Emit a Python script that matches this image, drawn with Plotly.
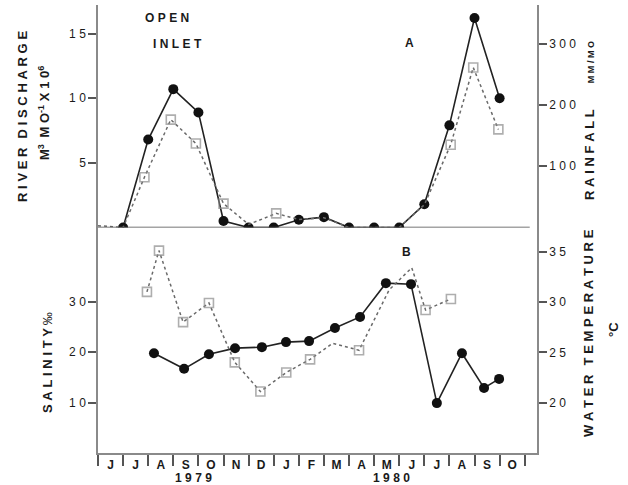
import plotly.graph_objects as go

# ---------------- data ----------------
months = ["J", "J", "A", "S", "O", "N", "D", "J", "F", "M", "A", "M", "J", "J", "A", "S", "O"]
years = ["1979", "1980"]
year_pos = [3.8, 11.7]

# Panel A (month index; tick boundaries at integers, Jun 1979 starts at 0)
discharge_x = [1, 2, 3, 4, 5, 6, 7, 8, 9, 10, 11, 12, 13, 14, 15, 16]
discharge = [0, 6.8, 10.7, 8.9, 0.5, 0, 0, 0.6, 0.8, 0, 0, 0, 1.8, 7.9, 16.2, 10.0]

rain_x = [0, 1, 1.85, 2.9, 3.9, 5.0, 6, 7.1, 8, 9, 10, 11, 12, 13, 14.05, 14.95, 15.95]
rainfall = [3, 0, 82, 176, 137, 39, 5, 23, 13, 16, 0, 0, 0, 37, 135, 261, 160]
rain_shown = [0, 0, 1, 1, 1, 1, 0, 1, 0, 0, 0, 0, 0, 0, 1, 1, 1]

# Panel B
salinity_x = [2.23, 3.43, 4.42, 5.46, 6.53, 7.49, 8.41, 9.44, 10.44, 11.47, 12.47, 13.5, 14.5, 15.38, 15.98]
salinity = [19.8, 16.7, 19.6, 20.8, 21.0, 22.0, 22.2, 24.8, 27.0, 33.7, 33.5, 9.9, 19.8, 12.9, 14.7]

temp_x = [1.95, 2.43, 3.39, 4.42, 5.45, 6.47, 7.5, 8.45, 9.35, 10.4, 11.6, 12.5, 13.05, 14.06]
temperature = [31.0, 35.1, 28.0, 29.9, 24.0, 21.1, 23.0, 24.3, 25.9, 25.2, 31.2, 33.4, 29.2, 30.3]
temp_shown = [1, 1, 1, 1, 1, 1, 1, 1, 0, 1, 0, 0, 1, 1]

# ---------------- layout geometry ----------------
W, H = 628, 485
L, R, T, B = 98, 91, 5, 32
PW, PH = W - L - R, H - T - B
split = (453 - 227.5) / PH
X_MAX = PW / 25.1

FONT = "Liberation Sans, Arial, sans-serif"
AXC = "#8a8a8a"
TXT = "#1a1a1a"
SEP = "\u2009\u200a"


def sp(s, sep=SEP):
    words = s.split(" ")
    return "\u2002\u2009".join(sep.join(w) for w in words if w)


def pos(x, y):
    return dict(x=(x - L) / PW, y=(453 - y) / PH, xref="paper", yref="paper")


def sizes(flags, s):
    return [s if f else 0 for f in flags]


fig = go.Figure()

# Panel A
fig.add_trace(go.Scatter(
    x=rain_x, y=rainfall, xaxis="x2", yaxis="y2", mode="lines+markers",
    line=dict(color="#6a6a6a", width=1.5, dash="dot"),
    marker=dict(symbol="square-open", size=sizes(rain_shown, 9), color="#8c8c8c",
                line=dict(width=1.6)),
    showlegend=False))
fig.add_trace(go.Scatter(
    x=discharge_x, y=discharge, xaxis="x2", yaxis="y", mode="lines+markers",
    line=dict(color="#222", width=1.6),
    marker=dict(symbol="circle", size=10, color="#111"),
    showlegend=False))

# Panel B
fig.add_trace(go.Scatter(
    x=temp_x, y=temperature, xaxis="x", yaxis="y4", mode="lines+markers",
    line=dict(color="#6a6a6a", width=1.5, dash="dot"),
    marker=dict(symbol="square-open", size=sizes(temp_shown, 9), color="#8c8c8c",
                line=dict(width=1.6)),
    showlegend=False))
fig.add_trace(go.Scatter(
    x=salinity_x, y=salinity, xaxis="x", yaxis="y3", mode="lines+markers",
    line=dict(color="#222", width=1.6),
    marker=dict(symbol="circle", size=10, color="#111"),
    showlegend=False))

tickfont = dict(family=FONT, size=12, color=TXT)


def yax(domain, rng, vals, side="left", overlaying=None, anchor="x"):
    d = dict(domain=domain, range=rng, tickvals=vals,
             ticktext=[sp(str(v)) for v in vals],
             showgrid=False, zeroline=False, showline=True, linecolor=AXC, linewidth=1.5,
             ticks="outside", ticklen=8, tickwidth=1.5, tickcolor="#555",
             tickfont=tickfont, side=side, anchor=anchor, fixedrange=True)
    if overlaying:
        d["overlaying"] = overlaying
    return d


fig.update_layout(
    width=W, height=H,
    margin=dict(l=L, r=R, t=T, b=B),
    paper_bgcolor="white", plot_bgcolor="white",
    xaxis=dict(domain=[0, 1], range=[0, X_MAX], anchor="y3",
               tickvals=[i + 0.5 for i in range(len(months))], ticktext=months,
               ticks="", showgrid=False, zeroline=False, showline=True,
               linecolor=AXC, linewidth=1.5, fixedrange=True,
               tickfont=dict(family=FONT, size=12, color=TXT, weight="bold"),
               minor=dict(tickvals=list(range(0, 18)), ticks="outside", ticklen=11,
                          tickwidth=1.5, tickcolor="#555", showgrid=False)),
    xaxis2=dict(domain=[0, 1], range=[0, X_MAX], anchor="y", matches="x", visible=False),
    yaxis=yax([split, 1], [0, 222.5 / 12.93], [5, 10, 15], anchor="x2"),
    yaxis2=yax([split, 1], [0, 222.5 / 0.613], [100, 200, 300], side="right",
               overlaying="y", anchor="x2"),
    yaxis3=yax([0, split], [0, 225.5 / 5.04], [10, 20, 30]),
    yaxis4=yax([0, split], [15, 15 + 225.5 / 10.07], [20, 25, 30, 35], side="right",
               overlaying="y3"),
)

# baseline between the panels
fig.add_shape(type="line", xref="x2", yref="y", x0=0, x1=17.2, y0=0, y1=0,
              line=dict(color="#4a4a4a", width=1.5))

ann = []
bold = dict(family=FONT, size=12, color=TXT)
ann.append(dict(text="<b>" + sp("OPEN") + "</b>", font=bold, **pos(167, 18)))
ann.append(dict(text="<b>" + sp("INLET") + "</b>", font=bold, **pos(177, 44)))
ann.append(dict(text="<b>A</b>", font=bold, **pos(409, 43)))
ann.append(dict(text="<b>B</b>", font=bold, **pos(406, 252)))
for yl, xp in zip(years, year_pos):
    ann.append(dict(text="<b>" + sp(yl) + "</b>", font=dict(family=FONT, size=12, color=TXT),
                    **pos(L + xp * 25.1, 478)))

tfont = dict(family=FONT, size=13, color=TXT)
ann.append(dict(text="<b>" + sp("RIVER DISCHARGE") + "</b>", font=tfont,
                textangle=-90, **pos(22, 117)))
ann.append(dict(text="<b>M<sup>3</sup>\u2002M" + SEP + "O<sup>-1</sup>" + SEP + "X"
                + SEP + "1" + SEP + "0<sup>6</sup></b>",
                font=tfont, textangle=-90, **pos(44, 113)))
ann.append(dict(text="<b>" + sp("RAINFALL") + "\u2003\u2003<span style='font-size:9px'>"
                + sp("MM/MO") + "</span></b>", font=tfont, textangle=-90, **pos(590, 121)))
ann.append(dict(text="<b>" + sp("SALINITY") + "</b>\u2009‰", font=tfont,
                textangle=-90, **pos(47, 363)))
ann.append(dict(text="<b>" + sp("WATER TEMPERATURE") + "</b>", font=tfont,
                textangle=-90, **pos(588, 333)))
ann.append(dict(text="<b>°C</b>", font=tfont, textangle=-90, **pos(613, 330)))

for a in ann:
    a.setdefault("showarrow", False)
    a.setdefault("xanchor", "center")
    a.setdefault("yanchor", "middle")
fig.update_layout(annotations=ann)

fig.write_html("out.html", config={"displayModeBar": False},
               post_script="document.body.style.margin='0';")
